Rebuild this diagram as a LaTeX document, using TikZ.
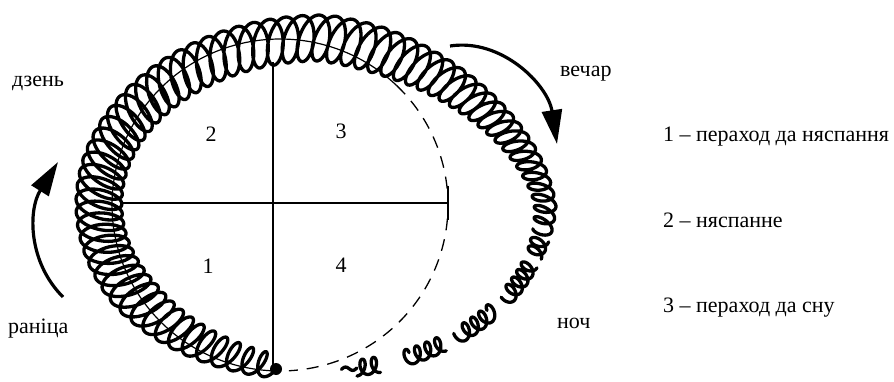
\documentclass[tikz,border=0pt]{standalone}
\usepackage{fontspec}
\setmainfont{Liberation Serif}
\usetikzlibrary{arrows.meta}
\def\coilper{4}
\def\coilqf{0.5}
\def\coilsh{0.22}
\begin{document}
\begin{tikzpicture}[x=1pt,y=-1pt,
  lbl/.style={font=\fontsize{22}{26}\selectfont, inner sep=0pt},
  coilline/.style={line width=3.3pt, line join=round, line cap=round},
  thinline/.style={line width=1.2pt},
  dashline/.style={line width=1.3pt, dash pattern=on 12pt off 9pt},
  bigarrow/.style={line width=3.2pt, -{Triangle[length=34pt,width=20pt]}},
  declare function={
    ff(\t)=1-0.08*(\t>270)*(\t<360)*sin(2*(\t-270));
    ll(\t)=sqrt((2.23*sin(\t))^2+(1.66*cos(\t))^2);
    rr(\t)=max(8,min(23,12+0.25*(\t-103))-0.16*max(0,\t-285));
    qq(\t)=\coilqf*rr(\t);
    ph(\t)=360*frac(\t/\coilper);
    tw(\t)=qq(\t)*sin(ph(\t))+\coilsh*rr(\t)*cos(ph(\t));
    cxp(\t)=322+ff(\t)*223*cos(\t)+(rr(\t)*cos(ph(\t))*1.66*cos(\t)-tw(\t)*2.23*sin(\t))/ll(\t);
    cyp(\t)=204+ff(\t)*166*sin(\t)+(rr(\t)*cos(ph(\t))*2.23*sin(\t)+tw(\t)*1.66*cos(\t))/ll(\t);
  }]
\useasboundingbox (0,0) rectangle (894,382);

% coil (spring)
\draw[coilline] plot[domain=103:370, samples=2400] ({cxp(\x)},{cyp(\x)});
\def\coilper{3}
\def\coilqf{0.65}
\def\coilsh{0.1}
\draw[coilline] plot[domain=372:378, samples=80] ({cxp(\x)},{cyp(\x)});
\draw[coilline] plot[domain=381:394, samples=160] ({cxp(\x)},{cyp(\x)});
\draw[coilline] plot[domain=400:412, samples=150] ({cxp(\x)},{cyp(\x)});
\draw[coilline] plot[domain=417:428, samples=140] ({cxp(\x)},{cyp(\x)});
\draw[coilline] plot[domain=435:441, samples=80] ({cxp(\x)},{cyp(\x)});
\draw[coilline] plot[domain=441:445, samples=20] ({322+223*cos(\x)},{204+166*sin(\x)+2*sin(90*(\x-441))});

% thin cycle line: solid then dashed
\draw[thinline] plot[domain=92:314, samples=120] ({280+168*cos(\x)},{205+166*sin(\x)});
\draw[dashline] plot[domain=314:447, samples=80] ({280+168*cos(\x)},{205+166*sin(\x)});

% cross
\coordinate (vtop) at (273,62);
\coordinate (vbot) at (273,370);
\coordinate (hl) at (123,203);
\coordinate (hr) at (448,203);
\coordinate (tk1) at (448,186);
\coordinate (tk2) at (448,220);
\draw[thinline] (vtop) -- (vbot);
\draw[thinline] (hl) -- (hr);
\draw[thinline] (tk1) -- (tk2);

% dot at bottom
\fill (276,369) circle (6);

% arrows
\coordinate (la) at (63,297);
\coordinate (lb) at (58,162);
\draw[bigarrow] (la) .. controls (28,262) and (28,210) .. (lb);
\coordinate (ra) at (450,46);
\coordinate (rb) at (557,144);
\draw[bigarrow] (ra) .. controls (502,38) and (548,85) .. (rb);

% labels
\node[lbl, anchor=base west] (den) at (12,87) {дзень};
\node[lbl, anchor=base west] (ran) at (8,333) {раніца};
\node[lbl, anchor=base west] (vech) at (560,77) {вечар};
\node[lbl, anchor=base west] (noch) at (557,328) {ноч};

\node[lbl, anchor=base] (q2) at (211,142) {2};
\node[lbl, anchor=base] (q3) at (341,139) {3};
\node[lbl, anchor=base] (q1) at (208,273) {1};
\node[lbl, anchor=base] (q4) at (341,272) {4};

\node[lbl, anchor=base west] (l1) at (663,142) {1 – пераход да няспання};
\node[lbl, anchor=base west] (l2) at (663,227) {2 – няспанне};
\node[lbl, anchor=base west] (l3) at (663,312) {3 – пераход да сну};
\end{tikzpicture}
\end{document}
